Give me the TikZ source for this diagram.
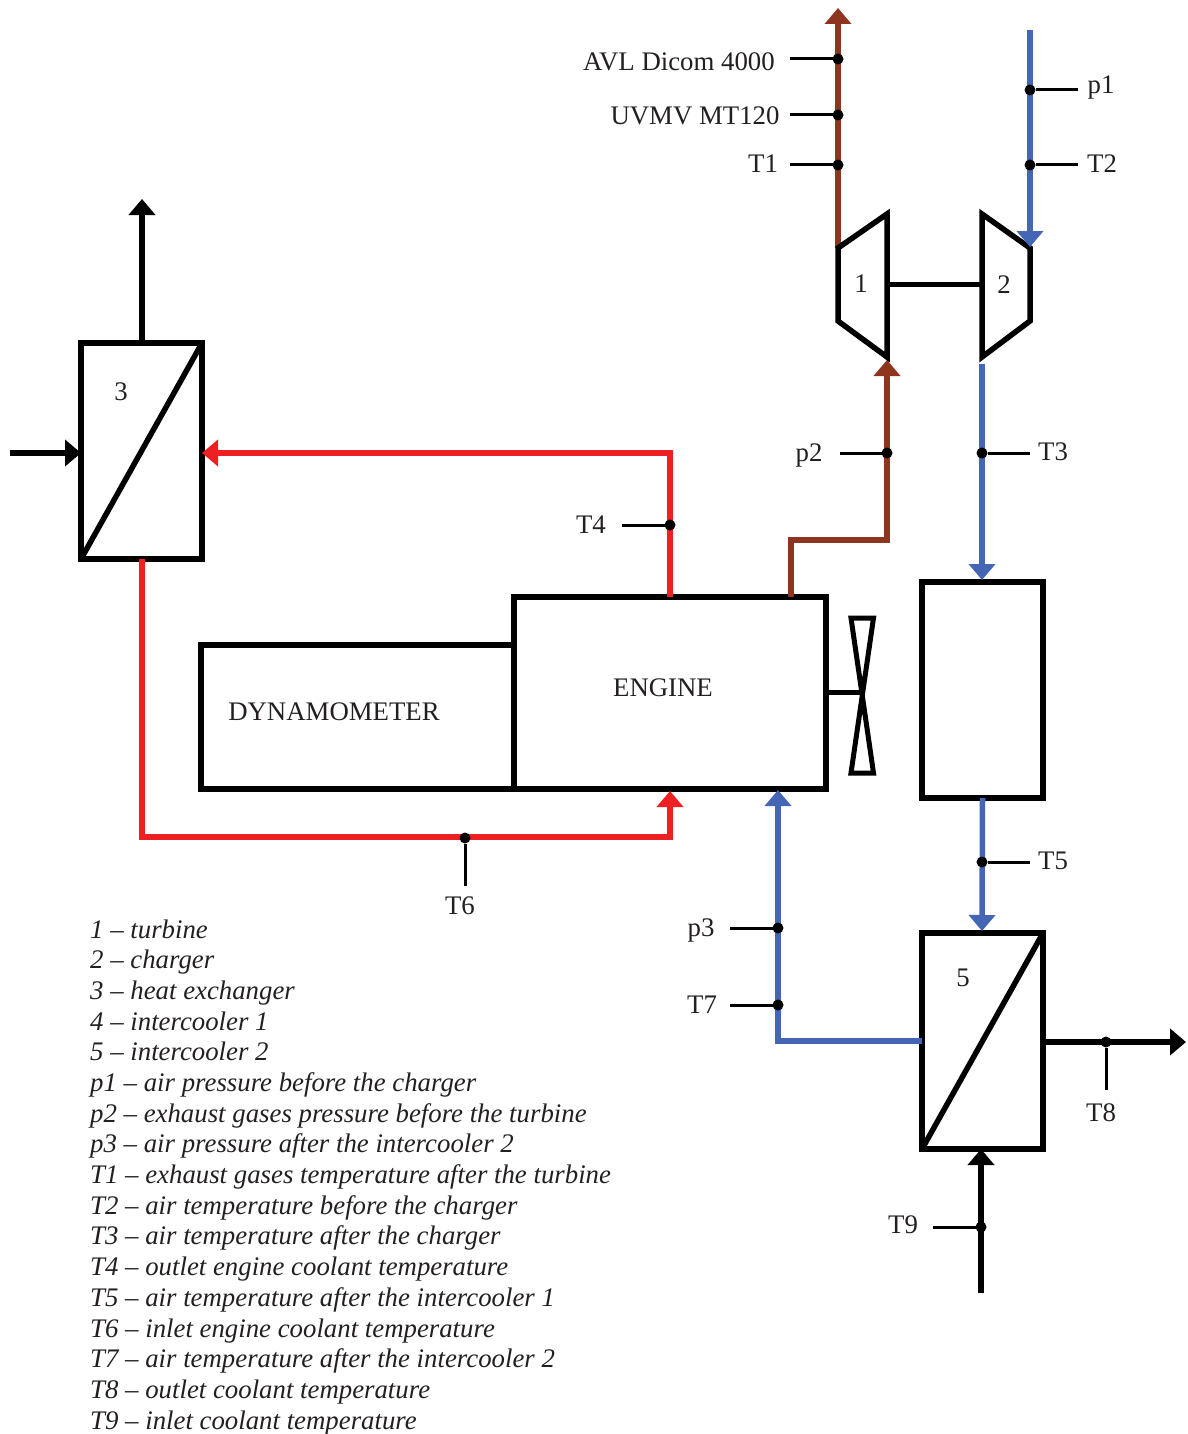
\documentclass[tikz,border=0pt]{standalone}
\usepackage{fontspec}
\setmainfont{Liberation Serif}
\usetikzlibrary{arrows.meta}
\definecolor{brownc}{HTML}{8E3520}
\definecolor{bluec}{HTML}{4466B4}
\definecolor{redc}{HTML}{EE2024}
\definecolor{inkc}{HTML}{231F20}
\tikzset{
  x=1pt,y=-1pt,
  box/.style={draw=black,line width=5.5pt,rectangle,outer sep=0pt,inner sep=0pt,line join=miter},
  heavy/.style={draw=black,line width=5.5pt,line join=miter},
  flow/.style={line width=5.5pt,line join=miter,-{Triangle[width=26pt,length=16pt]}},
  stub/.style={draw=black,line width=3pt},
  jdot/.style={circle,fill=black,inner sep=0pt,minimum size=11pt,outer sep=0pt},
  lbl/.style={text=inkc,font=\fontsize{26.8}{30}\selectfont,anchor=base,inner sep=0pt},
  leg/.style={text=inkc,font=\fontsize{26.8}{30}\selectfont\itshape,anchor=base west,inner sep=0pt},
}
\begin{document}
\begin{tikzpicture}
\useasboundingbox (0,0) rectangle (1187,1434);
% free ends and bends
\coordinate (exhtop) at (838,8);
\coordinate (turbin) at (838,248);
\coordinate (airtop) at (1030,30);
\coordinate (chgin) at (1030,247);
\coordinate (chgout) at (982,364);
\coordinate (ic4in) at (982,580);
\coordinate (ic5in) at (982,931);
\coordinate (turbfeed) at (887,360);
\coordinate (exA) at (791,540);
\coordinate (exB) at (887,540);
\coordinate (exS) at (791,597);
\coordinate (cA) at (670,453);
\coordinate (cB) at (142,837);
\coordinate (cC) at (670,837);
\coordinate (cD) at (670,791);
\coordinate (airA) at (778,1041);
\coordinate (airB) at (778,790);
\coordinate (hxin) at (10,453);
\coordinate (hxtop) at (142,199);
\coordinate (ic5out) at (1186,1042);
\coordinate (ic5cool) at (981,1293);
% boxes
\node[box,minimum width=313pt,minimum height=144pt] (dyno) at (357.5,717) {};
\node[box,minimum width=312pt,minimum height=192pt] (engine) at (670,693) {};
\node[box,minimum width=121pt,minimum height=216pt] (hx3) at (141.5,451) {};
\node[box,minimum width=121pt,minimum height=216pt] (ic4) at (982.5,690) {};
\node[box,minimum width=121pt,minimum height=216pt] (ic5) at (982.5,1041) {};
\draw[heavy] (hx3.south west) -- (hx3.north east);
\draw[heavy] (ic5.south west) -- (ic5.north east);
% flows
\draw[flow,draw=brownc] (turbin) -- (exhtop);
\draw[flow,draw=brownc] (exS) -- (exA) -- (exB) -- (turbfeed);
\draw[flow,draw=bluec] (chgout) -- (ic4in);
\draw[flow,draw=bluec] (ic4.south) -- (ic5in);
\draw[flow,draw=bluec] (ic5.west |- airA) -- (airA) -- (airB);
\draw[flow,draw=redc] (engine.north -| cA) -- (cA) -- (hx3.east |- cA);
\draw[flow,draw=redc] (hx3.south -| cB) -- (cB) -- (cC) -- (cD);
\draw[flow,draw=black] (hx3.north -| hxtop) -- (hxtop);
\draw[flow,draw=black] (hxin) -- (hx3.west |- hxin);
\draw[flow,draw=black] (ic5.east |- ic5out) -- (ic5out);
\draw[flow,draw=black] (ic5cool) -- (ic5.south -| ic5cool);
% turbine and charger
\draw[heavy] (838,248) -- (887,214) -- (887,357) -- (838,321) -- cycle;
\draw[heavy] (982,214) -- (1030,248) -- (1030,321) -- (982,357) -- cycle;
\draw[flow,draw=bluec] (airtop) -- (chgin);
\coordinate (tshaft) at (887,284.5);
\coordinate (cshaft) at (982,284.5);
\draw[heavy] (tshaft) -- (cshaft);
% fan
\draw[line width=5pt,line join=miter] (851,618) -- (873.5,618) -- (851,773) -- (873.5,773) -- cycle;
\coordinate (fanhub) at (862,692.5);
\draw[heavy] (engine.east |- fanhub) -- (fanhub);
% junction dots
\node[jdot] (dAVL) at (838,59) {};
\node[jdot] (dUV) at (838,115) {};
\node[jdot] (dT1) at (838,165) {};
\node[jdot] (dp1) at (1030,90) {};
\node[jdot] (dT2) at (1030,165) {};
\node[jdot] (dp2) at (887,453) {};
\node[jdot] (dT3) at (982,453) {};
\node[jdot] (dT4) at (670,525) {};
\node[jdot] (dT5) at (982,862) {};
\node[jdot] (dT6) at (465,838) {};
\node[jdot] (dp3) at (778,928) {};
\node[jdot] (dT7) at (778,1005) {};
\node[jdot] (dT8) at (1106,1042) {};
\node[jdot] (dT9) at (981,1227) {};
% stubs
\coordinate (sAVL) at (790,59);
\coordinate (sUV) at (790,115);
\coordinate (sT1) at (790,165);
\coordinate (sp1) at (1078,90);
\coordinate (sT2) at (1078,165);
\coordinate (sp2) at (840,453);
\coordinate (sT3) at (1030,453);
\coordinate (sT4) at (622,525);
\coordinate (sT5) at (1030,862);
\coordinate (sT6) at (465,886);
\coordinate (sp3) at (730,928);
\coordinate (sT7) at (730,1005);
\coordinate (sT8) at (1106,1090);
\coordinate (sT9) at (933,1227);
\foreach \a/\b in {sAVL/dAVL,sUV/dUV,sT1/dT1,sp1/dp1,sT2/dT2,sp2/dp2,sT3/dT3,sT4/dT4,sT5/dT5,sT6/dT6,sp3/dp3,sT7/dT7,sT8/dT8,sT9/dT9}
  \draw[stub] (\a) -- (\b);
% labels
\node[lbl] (tAVL) at (679,71) {AVL Dicom 4000};
\node[lbl] (tUV) at (695,125) {UVMV MT120};
\node[lbl] (tT1) at (763,173) {T1};
\node[lbl] (tp1) at (1101,94) {p1};
\node[lbl] (tT2) at (1102,173) {T2};
\node[lbl] (tp2) at (809,461) {p2};
\node[lbl] (tT3) at (1053,460) {T3};
\node[lbl] (tT4) at (591,533) {T4};
\node[lbl] (tT5) at (1053,869) {T5};
\node[lbl] (tT6) at (460,914) {T6};
\node[lbl] (tp3) at (701,936) {p3};
\node[lbl] (tT7) at (702,1013) {T7};
\node[lbl] (tT8) at (1101,1121) {T8};
\node[lbl] (tT9) at (903,1233) {T9};
\node[lbl] (n1) at (861,292) {1};
\node[lbl] (n2) at (1004,293) {2};
\node[lbl] (n3) at (121,400) {3};
\node[lbl] (n5) at (963,986) {5};
\node[lbl] (tEng) at (663,696) {ENGINE};
\node[lbl] (tDyn) at (334,720) {DYNAMOMETER};
% legend
\node[leg] (l1) at (90,938) {1 – turbine};
\node[leg] (l2) at (90,968) {2 – charger};
\node[leg] (l3) at (90,999) {3 – heat exchanger};
\node[leg] (l4) at (90,1030) {4 – intercooler 1};
\node[leg] (l5) at (90,1060) {5 – intercooler 2};
\node[leg] (l6) at (90,1091) {p1 – air pressure before the charger};
\node[leg] (l7) at (90,1122) {p2 – exhaust gases pressure before the turbine};
\node[leg] (l8) at (90,1152) {p3 – air pressure after the intercooler 2};
\node[leg] (l9) at (90,1183) {T1 – exhaust gases temperature after the turbine};
\node[leg] (l10) at (90,1214) {T2 – air temperature before the charger};
\node[leg] (l11) at (90,1244) {T3 – air temperature after the charger};
\node[leg] (l12) at (90,1275) {T4 – outlet engine coolant temperature};
\node[leg] (l13) at (90,1306) {T5 – air temperature after the intercooler 1};
\node[leg] (l14) at (90,1337) {T6 – inlet engine coolant temperature};
\node[leg] (l15) at (90,1367) {T7 – air temperature after the intercooler 2};
\node[leg] (l16) at (90,1398) {T8 – outlet coolant temperature};
\node[leg] (l17) at (90,1429) {T9 – inlet coolant temperature};
\end{tikzpicture}
\end{document}
